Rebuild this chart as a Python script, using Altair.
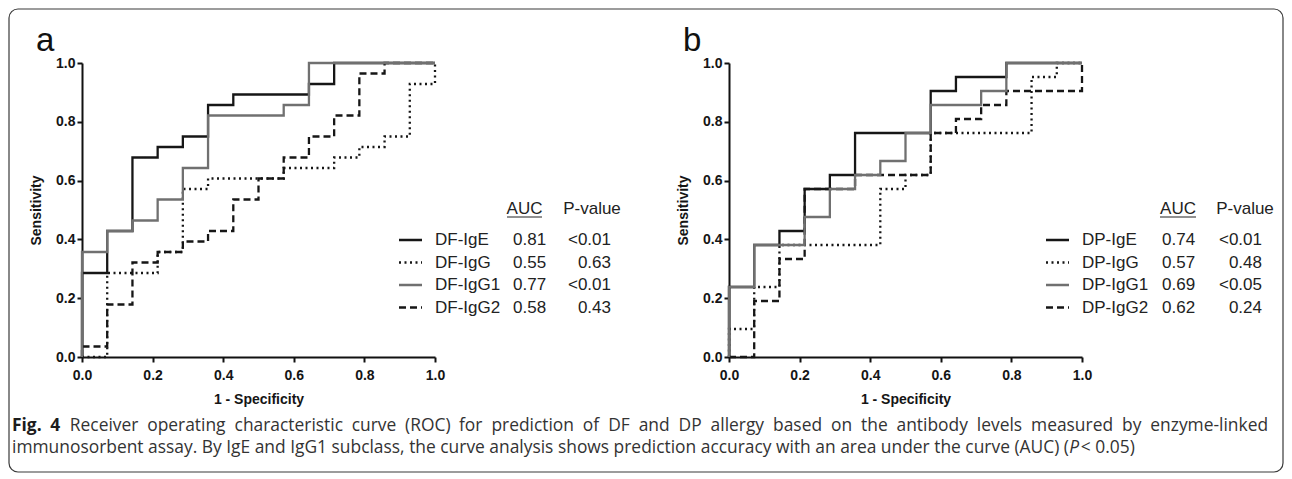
import altair as alt
import pandas as pd

# ---------------- data ----------------
# Panel a (DF): ROC vertices (1 - specificity, sensitivity)
a_ige_x = [0, 0, 0.0714, 0.1429, 0.2143, 0.2857, 0.3571, 0.4286, 0.6429, 0.7143, 1.0]
a_ige_y = [0, 0.2857, 0.4286, 0.6786, 0.7143, 0.75, 0.8571, 0.8929, 0.9286, 1.0, 1.0]
a_igg_x = [0, 0.0714, 0.2143, 0.2857, 0.3571, 0.5714, 0.7143, 0.7857, 0.8571, 0.9286, 1.0]
a_igg_y = [0, 0.2857, 0.3571, 0.5714, 0.6071, 0.6429, 0.6786, 0.7143, 0.75, 0.9286, 1.0]
a_igg1_x = [0, 0, 0.0714, 0.1429, 0.2143, 0.2857, 0.3571, 0.5714, 0.6429, 1.0]
a_igg1_y = [0, 0.3571, 0.4286, 0.4643, 0.5357, 0.6429, 0.8214, 0.8571, 1.0, 1.0]
a_igg2_x = [0, 0, 0.0714, 0.1429, 0.2143, 0.2857, 0.3571, 0.4286, 0.5, 0.5714, 0.6429, 0.7143, 0.7857, 0.8571, 1.0]
a_igg2_y = [0, 0.0357, 0.1786, 0.3214, 0.3571, 0.3929, 0.4286, 0.5357, 0.6071, 0.6786, 0.75, 0.8214, 0.9643, 1.0, 1.0]

# Panel b (DP)
b_ige_x = [0, 0, 0.0714, 0.1429, 0.2143, 0.2857, 0.3571, 0.5714, 0.6429, 0.7857, 1.0]
b_ige_y = [0, 0.2381, 0.381, 0.4286, 0.5714, 0.619, 0.7619, 0.9048, 0.9524, 1.0, 1.0]
b_igg_x = [0, 0, 0.0714, 0.1429, 0.4286, 0.5, 0.5714, 0.8571, 0.9286, 1.0]
b_igg_y = [0, 0.0952, 0.2381, 0.381, 0.5714, 0.619, 0.7619, 0.9524, 1.0, 1.0]
b_igg1_x = [0, 0, 0.0714, 0.2143, 0.2857, 0.3571, 0.4286, 0.5, 0.5714, 0.7143, 0.7857, 1.0]
b_igg1_y = [0, 0.2381, 0.381, 0.4762, 0.5714, 0.619, 0.6667, 0.7619, 0.8571, 0.9048, 1.0, 1.0]
b_igg2_x = [0, 0.0714, 0.1429, 0.2143, 0.3571, 0.5714, 0.6429, 0.7143, 0.7857, 1.0]
b_igg2_y = [0, 0.1905, 0.3333, 0.5714, 0.619, 0.7619, 0.8095, 0.8571, 0.9048, 1.0]

a_names = ["DF-IgE", "DF-IgG", "DF-IgG1", "DF-IgG2"]
a_auc = ["0.81", "0.55", "0.77", "0.58"]
a_p = ["<0.01", "0.63", "<0.01", "0.43"]
b_names = ["DP-IgE", "DP-IgG", "DP-IgG1", "DP-IgG2"]
b_auc = ["0.74", "0.57", "0.69", "0.62"]
b_p = ["<0.01", "0.48", "<0.05", "0.24"]

tick_vals = [0.0, 0.2, 0.4, 0.6, 0.8, 1.0]

caption1_bold = "Fig. 4"
caption1 = ("Receiver operating characteristic curve (ROC) for prediction of DF and DP allergy "
            "based on the antibody levels measured by enzyme-linked")
caption2 = ("immunosorbent assay. By IgE and IgG1 subclass, the curve analysis shows prediction "
            "accuracy with an area under the curve (AUC) (")
caption2_it = "P"
caption2_end = "<  0.05)"

# ---------------- styles ----------------
BLACK = "#161616"
GREY = "#707070"
STYLES = [(BLACK, [1, 0]), (BLACK, [2, 3.5]), (GREY, [1, 0]), (BLACK, [7, 4])]
W, H = 353, 294
LEG_FONT = "Liberation Sans"
ROW_Y = [177, 199.5, 222, 244.5]
LW = 2.3

# approximate Open Sans advance widths (em) for laying out the justified caption line
OS_W = {' ': 0.26, 'a': 0.556, 'b': 0.613, 'c': 0.476, 'd': 0.613, 'e': 0.561, 'f': 0.339,
        'g': 0.548, 'h': 0.614, 'i': 0.253, 'j': 0.253, 'k': 0.524, 'l': 0.253, 'm': 0.93,
        'n': 0.614, 'o': 0.604, 'p': 0.613, 'q': 0.613, 'r': 0.408, 's': 0.477, 't': 0.353,
        'u': 0.614, 'v': 0.501, 'w': 0.778, 'x': 0.511, 'y': 0.502, 'z': 0.456, '(': 0.282,
        ')': 0.282, '-': 0.322, '.': 0.266, ',': 0.249, '<': 0.571, 'A': 0.633, 'B': 0.647,
        'C': 0.631, 'D': 0.729, 'E': 0.556, 'F': 0.516, 'G': 0.728, 'I': 0.279, 'O': 0.778,
        'P': 0.603, 'R': 0.618, 'U': 0.725}
CAP_SIZE = 17.4
# calibrate table against the measured rendering (1026 px for caption1 at 16 px)
_cal = 1026.0 / (16 * sum(OS_W.get(c, 0.571) for c in caption1))


def tw(s, size=CAP_SIZE, bold=1.0):
    return sum(OS_W.get(c, 0.571) for c in s) * size * _cal * bold


def txt(t, x, y, size=17, align="left", weight="normal", style="normal",
        font=LEG_FONT, color="#222222", baseline="middle"):
    return alt.Chart(pd.DataFrame({"t": [t]})).mark_text(
        align=align, baseline=baseline, fontSize=size, font=font,
        fontWeight=weight, fontStyle=style, color=color
    ).encode(text="t:N", x=alt.value(x), y=alt.value(y))


def panel(series, names, aucs, ps, letter, extra=None):
    xs = alt.Scale(domain=[0, 1], nice=False)
    ys = alt.Scale(domain=[0, 1], nice=False)
    layers = []
    order = [0, 1, 3, 2]  # grey line on top
    for k in order:
        sx, sy = series[k]
        color, dash = STYLES[k]
        df = pd.DataFrame({"x": sx, "y": sy, "i": list(range(len(sx)))})
        layers.append(
            alt.Chart(df).mark_line(interpolate="step-after", color=color,
                                    strokeDash=dash, strokeWidth=LW, clip=False)
            .encode(
                x=alt.X("x:Q", scale=xs,
                        axis=alt.Axis(values=tick_vals, format=".1f", title="1 - Specificity")),
                y=alt.Y("y:Q", scale=ys,
                        axis=alt.Axis(values=tick_vals, format=".1f", title="Sensitivity")),
                order="i:Q",
            )
        )
    # legend table
    layers.append(txt("AUC", 442.5 if letter == "a" else 449, 146, align="center"))
    layers.append(txt("P-value", 510 if letter == "a" else 516, 146, align="center"))
    ux = (425, 460) if letter == "a" else (431, 467)
    layers.append(alt.Chart(pd.DataFrame({"v": [0]})).mark_rule(color="#222222", strokeWidth=1)
                  .encode(x=alt.value(ux[0]), x2=alt.value(ux[1]), y=alt.value(154)))
    auc_x = 431 if letter == "a" else 433
    p_x = 529 if letter == "a" else 533
    for r in range(4):
        color, dash = STYLES[r]
        layers.append(alt.Chart(pd.DataFrame({"v": [0]})).mark_rule(
            color=color, strokeDash=dash, strokeWidth=LW)
            .encode(x=alt.value(317), x2=alt.value(340), y=alt.value(ROW_Y[r])))
        layers.append(txt(names[r], 353, ROW_Y[r]))
        layers.append(txt(aucs[r], auc_x, ROW_Y[r]))
        layers.append(txt(ps[r], p_x, ROW_Y[r], align="right"))
    layers.append(txt(letter, -46, -12, size=33, baseline="alphabetic", color="#111111"))
    if extra:
        layers.extend(extra)
    return alt.layer(*layers).properties(width=W, height=H)


CAP_FONT = "Open Sans"
CAP_COLOR = "#333333"
L1_Y, L2_Y = 368, 390
LEFT, RIGHT = -70, 1186  # caption text block edges (panel-a coordinates)

# justified first caption line: words spread between LEFT and RIGHT
words = [(w, True) for w in caption1_bold.split(" ")] + [(w, False) for w in caption1.split(" ")]
wid = [tw(w, bold=1.07 if b else 1.0) for w, b in words]
gap = (RIGHT - LEFT - sum(wid)) / (len(words) - 1)
pos, cur = [], LEFT
for w_ in wid:
    pos.append(cur)
    cur += w_ + gap
cap1_df = pd.DataFrame({"w": [w for w, _ in words], "px": pos,
                        "b": ["bold" if b else "normal" for _, b in words]})
cap1_bold = alt.Chart(cap1_df[cap1_df.b == "bold"]).mark_text(
    align="left", baseline="alphabetic", font=CAP_FONT, fontSize=CAP_SIZE, fontWeight="bold",
    color="#1c1c1c").encode(text="w:N", x=alt.X("px:Q", scale=None), y=alt.value(L1_Y))
cap1_norm = alt.Chart(cap1_df[cap1_df.b == "normal"]).mark_text(
    align="left", baseline="alphabetic", font=CAP_FONT, fontSize=CAP_SIZE,
    color=CAP_COLOR).encode(text="w:N", x=alt.X("px:Q", scale=None), y=alt.value(L1_Y))

p_x0 = LEFT + tw(caption2)
extra_a = [
    alt.Chart(pd.DataFrame({"v": [0]})).mark_rect(
        fillOpacity=0, stroke="#3a3a3a", strokeWidth=1.2, cornerRadius=9)
    .encode(x=alt.value(-73), x2=alt.value(1201), y=alt.value(-54), y2=alt.value(409)),
    cap1_bold, cap1_norm,
    txt(caption2, LEFT, L2_Y, size=CAP_SIZE, font=CAP_FONT, baseline="alphabetic", color=CAP_COLOR),
    txt(caption2_it, p_x0, L2_Y, size=CAP_SIZE, font=CAP_FONT, style="italic",
        baseline="alphabetic", color=CAP_COLOR),
    txt(caption2_end, p_x0 + tw("P") + 1, L2_Y, size=CAP_SIZE, font=CAP_FONT,
        baseline="alphabetic", color=CAP_COLOR),
]

pa = panel([(a_ige_x, a_ige_y), (a_igg_x, a_igg_y), (a_igg1_x, a_igg1_y), (a_igg2_x, a_igg2_y)],
           a_names, a_auc, a_p, "a", extra_a)
pb = panel([(b_ige_x, b_ige_y), (b_igg_x, b_igg_y), (b_igg1_x, b_igg1_y), (b_igg2_x, b_igg2_y)],
           b_names, b_auc, b_p, "b")

chart = (
    alt.hconcat(pa, pb, spacing=294, bounds="flush")
    .properties(padding=0, background="white")
    .configure_view(stroke=None)
    .configure_axis(
        grid=False, domainColor="#111111", domainWidth=2, tickColor="#111111", tickWidth=2,
        tickSize=5, labelFont="Liberation Sans", labelFontWeight="bold", labelFontSize=14,
        labelColor="#151515", titleFont="Liberation Sans", titleFontWeight="bold",
        titleFontSize=14, titleColor="#151515", labelFlush=False,
    )
    .configure_axisX(labelPadding=6, titlePadding=10)
    .configure_axisY(labelPadding=2, titlePadding=12)
)

chart.save("out.html", embed_options={"renderer": "svg", "actions": False})
